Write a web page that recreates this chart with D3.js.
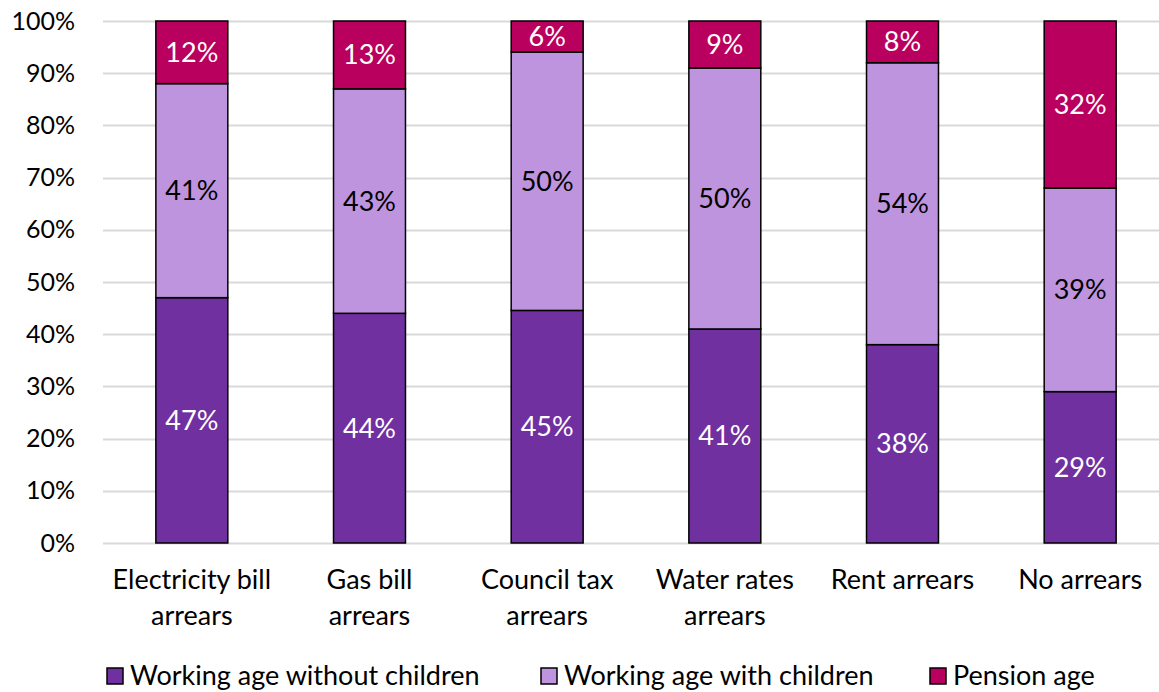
<!DOCTYPE html>
<html>
<head>
<meta charset="utf-8">
<script src="https://cdn.jsdelivr.net/npm/d3@7/dist/d3.min.js"></script>
<style>
  html, body { margin: 0; padding: 0; background: #fff; }
  svg { display: block; font-family: Lato, "Open Sans", sans-serif; }
</style>
</head>
<body>
<svg id="chart" width="1159" height="692"></svg>
<script>
// Arrears type by household group (shares, %)
const categories = [
  ["Electricity bill", "arrears"],
  ["Gas bill", "arrears"],
  ["Council tax", "arrears"],
  ["Water rates", "arrears"],
  ["Rent arrears"],
  ["No arrears"]
];
const seriesNames = ["Working age without children", "Working age with children", "Pension age"];
const withoutChildren = [47, 44, 45, 41, 38, 29];
const withChildren    = [41, 43, 50, 50, 54, 39];
const pensionAge      = [12, 13, 6, 9, 8, 32];
const yTicks = [0, 0.1, 0.2, 0.3, 0.4, 0.5, 0.6, 0.7, 0.8, 0.9, 1];
const colors = ["#7030A0", "#BF94DF", "#BA005E"];

const svg = d3.select("#chart");
const W = 1159;
const H = 692;
const margin = { left: 103, right: -10, top: 21, bottom: 149 };
const FS = 27;      // text size for labels and legend
const FS_TICK = 25; // y tick labels

const rows = categories.map((c, i) => ({
  key: i,
  s0: withoutChildren[i],
  s1: withChildren[i],
  s2: pensionAge[i]
}));

// 100% stacked layout
const stack = d3.stack().keys(["s0", "s1", "s2"]).offset(d3.stackOffsetExpand);
const layers = stack(rows);

const x = d3.scaleBand()
  .domain(d3.range(categories.length))
  .range([margin.left, W - margin.right])
  .paddingInner(0.595)
  .paddingOuter(0.2975);

const y = d3.scaleLinear().domain([0, 1]).range([H - margin.bottom, margin.top]);

// gridlines
svg.append("g")
  .selectAll("line")
  .data(yTicks)
  .join("line")
  .attr("x1", margin.left)
  .attr("x2", W)
  .attr("y1", d => Math.round(y(d)) + 0.5)
  .attr("y2", d => Math.round(y(d)) + 0.5)
  .attr("stroke", "#d9d9d9")
  .attr("stroke-width", 2);

// y axis labels
const yAxis = d3.axisLeft(y).tickValues(yTicks).tickFormat(d3.format(".0%")).tickSize(0).tickPadding(0);
const gy = svg.append("g").attr("transform", `translate(${75},0)`).call(yAxis);
gy.select(".domain").remove();
gy.selectAll("text")
  .attr("font-family", "Lato, sans-serif")
  .attr("font-size", FS_TICK)
  .attr("fill", "#000");

// bars
const gBars = svg.append("g");
layers.forEach((layer, li) => {
  gBars.append("g")
    .selectAll("rect")
    .data(layer)
    .join("rect")
    .attr("x", (d, i) => x(i))
    .attr("width", x.bandwidth())
    .attr("y", d => y(d[1]))
    .attr("height", d => y(d[0]) - y(d[1]))
    .attr("fill", colors[li])
    .attr("stroke", "#000")
    .attr("stroke-width", 1.5);
});

// value labels
const labelVals = [withoutChildren, withChildren, pensionAge];
layers.forEach((layer, li) => {
  svg.append("g")
    .selectAll("text")
    .data(layer)
    .join("text")
    .attr("x", (d, i) => x(i) + x.bandwidth() / 2)
    .attr("y", d => (y(d[0]) + y(d[1])) / 2)
    .attr("dy", "0.35em")
    .attr("text-anchor", "middle")
    .attr("font-size", FS)
    .attr("fill", li === 1 ? "#000" : "#fff")
    .text((d, i) => labelVals[li][i] + "%");
});

// category labels
const xLab = svg.append("g");
categories.forEach((lines, i) => {
  const cx = x(i) + x.bandwidth() / 2;
  const t = xLab.append("text")
    .attr("x", cx)
    .attr("y", 589)
    .attr("text-anchor", "middle")
    .attr("font-size", FS)
    .attr("fill", "#000");
  lines.forEach((ln, k) => {
    t.append("tspan")
      .attr("x", cx)
      .attr("dy", k === 0 ? 0 : 36)
      .text(ln);
  });
});

// legend
const legendX = [107, 541, 930];
const leg = svg.append("g");
seriesNames.forEach((name, i) => {
  const g = leg.append("g").attr("transform", `translate(${legendX[i]},668)`);
  g.append("rect")
    .attr("x", 0).attr("y", 0)
    .attr("width", 16).attr("height", 16)
    .attr("fill", colors[i])
    .attr("stroke", "#000")
    .attr("stroke-width", 1.5);
  g.append("text")
    .attr("x", 23)
    .attr("y", 8)
    .attr("dy", "0.35em")
    .attr("font-size", FS)
    .attr("fill", "#000")
    .text(name);
});
</script>
</body>
</html>
